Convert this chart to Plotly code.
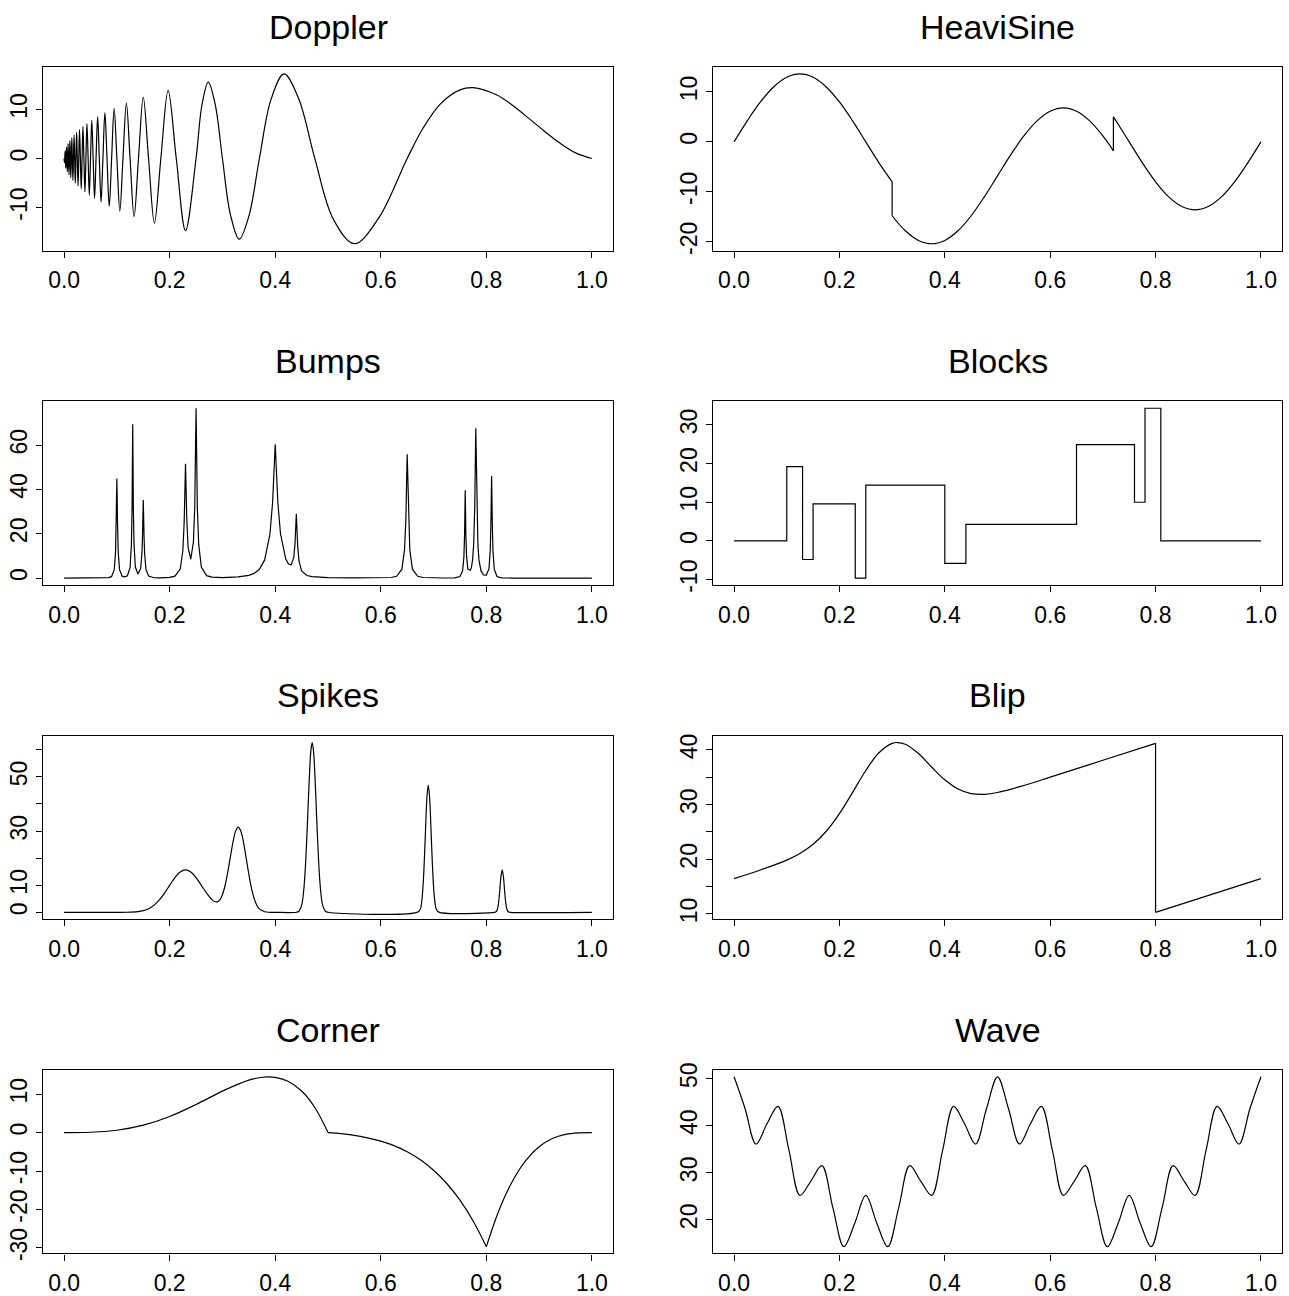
import plotly.graph_objects as go

# ---------------- data ----------------
doppler_t = [0.0, 0.0006, 0.0012, 0.0019, 0.0025, 0.0032, 0.0038, 0.0045, 0.0053, 0.0060, 0.0068, 0.0075,
             0.0083, 0.0092, 0.0100, 0.0109, 0.0118, 0.0127, 0.0136, 0.0146, 0.0156, 0.0167, 0.0177, 0.0189,
             0.0200, 0.0212, 0.0224, 0.0237, 0.0250, 0.0264, 0.0278, 0.0292, 0.0308, 0.0324, 0.0340, 0.0357,
             0.0375, 0.0394, 0.0413, 0.0433, 0.0455, 0.0477, 0.0500, 0.0524, 0.0550, 0.0577, 0.0605, 0.0635,
             0.0667, 0.0700, 0.0735, 0.0773, 0.0813, 0.0855, 0.0900, 0.0948, 0.1000, 0.1056, 0.1115, 0.1180,
             0.1250, 0.1326, 0.1409, 0.1500, 0.1600, 0.1711, 0.1833, 0.1971, 0.2125, 0.2300, 0.2500, 0.2611,
             0.2731, 0.2860, 0.3000, 0.3152, 0.3318, 0.3500, 0.3700, 0.3921, 0.4167, 0.4441, 0.4750, 0.5100,
             0.5500, 0.5962, 0.6500, 0.6800, 0.7136, 0.7500, 0.7750, 0.8200, 0.8500, 0.8833, 0.9100, 0.9400,
             0.9700, 1.0]
doppler_y = [0, -0.86, 0, 1.51, 0, -1.97, 0, 2.35, 0, -2.70, 0, 3.03,
             0, -3.33, 0, 3.63, 0, -3.92, 0, 4.20, 0, -4.48, 0, 4.76,
             0, -5.04, 0, 5.32, 0, -5.61, 0, 5.90, 0, -6.19, 0, 6.50,
             0, -6.81, 0, 7.13, 0, -7.46, 0, 7.80, 0, -8.16, 0, 8.54,
             0, -8.93, 0, 9.35, 0, -9.79, 0, 10.25, 0, -10.75, 0, 11.29,
             0, -11.87, 0, 12.50, 0, -13.18, 0, 13.92, 0, -14.73, 0, 10.87,
             15.59, 11.18, 0, -11.50, -16.48, -11.80, 0, 12.08, 17.26, 12.30, 0, -12.37,
             -17.41, -12.14, 0, 6.17, 11.19, 14.00, 14.47, 12.96, 10.82, 7.94, 5.57, 3.09,
             1.10, 0]

heavi_t1 = [0.0, 0.025, 0.05, 0.075, 0.1, 0.125, 0.15, 0.175, 0.2, 0.225, 0.25, 0.275, 0.3]
heavi_y1 = [0.0, 4.20, 7.99, 11.00, 12.93, 13.60, 12.93, 11.00, 7.99, 4.20, 0.0, -4.20, -7.99]
heavi_t2 = [0.3, 0.325, 0.35, 0.375, 0.4, 0.425, 0.45, 0.475, 0.5, 0.525, 0.55, 0.575, 0.6,
            0.625, 0.65, 0.675, 0.7, 0.72]
heavi_y2 = [-14.79, -17.80, -19.73, -20.40, -19.73, -17.80, -14.79, -11.00, -6.80, -2.60, 1.19, 4.20, 6.13,
            6.80, 6.13, 4.20, 1.19, -1.79]
heavi_t3 = [0.72, 0.725, 0.75, 0.775, 0.8, 0.825, 0.85, 0.875, 0.9, 0.925, 0.95, 0.975, 1.0]
heavi_y3 = [5.01, 4.20, 0.0, -4.20, -7.99, -11.00, -12.93, -13.60, -12.93, -11.00, -7.99, -4.20, 0.0]

bumps_t = [0.0, 0.05, 0.08, 0.085, 0.09, 0.095, 0.0975, 0.09875, 0.1, 0.10125, 0.1025, 0.105, 0.11, 0.115,
           0.12, 0.125, 0.1275, 0.12875, 0.13, 0.13125, 0.1325, 0.135, 0.14, 0.145, 0.1475, 0.1485, 0.15,
           0.1515, 0.1525, 0.155, 0.16, 0.17, 0.18, 0.2, 0.21, 0.22, 0.225, 0.2275, 0.23, 0.2325, 0.235,
           0.24, 0.245, 0.2475, 0.25, 0.2525, 0.255, 0.26, 0.27, 0.28, 0.3, 0.33, 0.35, 0.36, 0.37, 0.38,
           0.39, 0.395, 0.4, 0.405, 0.41, 0.42, 0.425, 0.43, 0.435, 0.4375, 0.44, 0.4425, 0.445, 0.45, 0.46,
           0.47, 0.5, 0.55, 0.6, 0.62, 0.63, 0.64, 0.645, 0.6475, 0.65, 0.6525, 0.655, 0.66, 0.67, 0.68,
           0.7, 0.72, 0.74, 0.745, 0.75, 0.755, 0.7575, 0.75875, 0.76, 0.76125, 0.7625, 0.765, 0.77, 0.772,
           0.774, 0.776, 0.778, 0.78, 0.782, 0.784, 0.786, 0.788, 0.79, 0.795, 0.8, 0.805, 0.8075, 0.80875,
           0.81, 0.81125, 0.8125, 0.815, 0.82, 0.825, 0.83, 0.85, 1.0]
bumps_y = [0.0, 0.0, 0.1, 0.23, 0.74, 3.8, 11.9, 24.6, 45.0, 24.6, 11.9, 3.8, 0.86, 0.52,
           1.06, 4.8, 14.9, 30.7, 69.5, 30.8, 15.0, 4.99, 1.82, 4.28, 11.4, 18.5, 35.3,
           18.4, 11.2, 4.05, 0.92, 0.15, 0.08, 0.3, 0.86, 4.04, 12.35, 25.3, 51.6, 25.9, 13.8,
           8.5, 16.4, 31.8, 76.7, 31.2, 15.2, 4.98, 1.1, 0.44, 0.24, 0.51, 1.25, 2.13, 3.94, 8.2,
           19.9, 34.0, 60.4, 34.1, 20.0, 8.6, 6.4, 5.9, 9.1, 15.4, 29.0, 14.75, 7.8, 3.2, 1.17,
           0.63, 0.2, 0.05, 0.06, 0.25, 0.8, 4.03, 12.7, 26.4, 55.9, 26.4, 12.7, 4.03, 0.8, 0.25,
           0.05, 0.03, 0.13, 0.27, 0.72, 3.17, 9.54, 19.4, 39.7, 19.6, 9.9, 4.03, 3.56, 5.13,
           8.4, 15.3, 31.4, 67.7, 31.4, 15.2, 8.2, 4.85, 3.1, 1.37, 1.29, 4.2, 12.6, 26.0,
           46.1, 25.9, 12.5, 4.03, 0.84, 0.29, 0.13, 0.01, 0.0]

blocks_t = [0.0, 0.10, 0.13, 0.15, 0.23, 0.25, 0.40, 0.44, 0.65, 0.76, 0.78, 0.81, 1.0]
blocks_y = [0.0, 19.2, -4.8, 9.6, -9.6, 14.4, -5.8, 4.3, 24.9, 10.0, 34.3, 0.0, 0.0]

spikes_t = [0.0, 0.1, 0.12, 0.14, 0.15, 0.16, 0.17, 0.18, 0.19, 0.2, 0.21, 0.22, 0.23, 0.24, 0.25,
            0.26, 0.27, 0.28, 0.285, 0.29, 0.295, 0.30, 0.305, 0.31, 0.315, 0.32, 0.325, 0.33, 0.335,
            0.34, 0.345, 0.35, 0.355, 0.36, 0.365, 0.37, 0.38, 0.39, 0.40, 0.44, 0.445, 0.45, 0.4525,
            0.455, 0.4575, 0.46, 0.4625, 0.465, 0.4675, 0.47, 0.4725, 0.475, 0.4775, 0.48, 0.4825, 0.485,
            0.4875, 0.49, 0.495, 0.5, 0.67, 0.675, 0.6775, 0.68, 0.6825, 0.685, 0.6875, 0.69, 0.6925,
            0.695, 0.6975, 0.7, 0.7025, 0.705, 0.71, 0.815, 0.8175, 0.82, 0.8225, 0.825, 0.8275, 0.83,
            0.8325, 0.835, 0.8375, 0.84, 0.8425, 0.845, 1.0]
spikes_y = [0.0, 0.0, 0.04, 0.27, 0.64, 1.35, 2.59, 4.49, 7.04, 9.99, 12.83, 14.91, 15.67, 14.91, 12.83,
            9.99, 7.06, 4.70, 4.0, 3.87, 4.59, 6.53, 9.92, 14.72, 20.4, 25.93, 29.98, 31.45, 29.87,
            25.70, 20.0, 14.09, 8.98, 5.18, 2.70, 1.28, 0.21, 0.02, 0.0, 0.05, 0.42, 2.56, 5.41,
            10.36, 17.96, 28.16, 39.96, 51.3, 59.6, 62.68, 59.6, 51.3, 39.96, 28.16, 17.96, 10.36,
            5.41, 2.56, 0.42, 0.05, 0.08, 1.28, 3.86, 9.49, 19.1, 31.5, 42.5, 47.0, 42.5,
            31.5, 19.1, 9.49, 3.86, 1.28, 0.08, 0.01, 0.1, 0.64, 2.59, 7.04, 12.83, 15.67,
            12.83, 7.04, 2.59, 0.64, 0.1, 0.01, 0.0]

blip_t1 = [0.0, 0.05, 0.1, 0.125, 0.15, 0.175, 0.2, 0.225, 0.25, 0.275, 0.3, 0.31, 0.325, 0.35, 0.375,
           0.4, 0.425, 0.45, 0.475, 0.5, 0.55, 0.6, 0.7, 0.8]
blip_y1 = [16.48, 18.05, 19.85, 21.07, 22.74, 25.13, 28.34, 32.24, 36.24, 39.49, 41.2, 41.35, 41.04, 39.33,
           36.87, 34.53, 32.85, 32.01, 31.88, 32.21, 33.5, 35.02, 38.11, 41.2]
blip_t2 = [0.8, 1.0]
blip_y2 = [10.3, 16.48]

corner_t1 = [0.0, 0.05, 0.1, 0.15, 0.2, 0.25, 0.3, 0.35, 0.375, 0.3873, 0.4, 0.425, 0.45, 0.475, 0.5]
corner_y1 = [0.0, 0.08, 0.60, 1.92, 4.19, 7.31, 10.78, 13.64, 14.39, 14.50, 14.37, 13.29, 10.80, 6.52, 0.0]
corner_t2 = [0.5, 0.525, 0.55, 0.6, 0.625, 0.65, 0.675, 0.7, 0.725, 0.75, 0.775, 0.8]
corner_y2 = [0.0, -0.28, -0.71, -2.21, -3.40, -5.0, -7.09, -9.80, -13.24, -17.58, -22.99, -29.67]
corner_t3 = [0.8, 0.825, 0.85, 0.875, 0.9, 0.925, 0.95, 0.975, 1.0]
corner_y3 = [-29.67, -19.86, -12.51, -7.24, -3.71, -1.56, -0.46, -0.06, 0.0]

wave_t = [0.0, 0.0208, 0.0417, 0.0625, 0.0833, 0.1042, 0.125, 0.1458, 0.1667, 0.1875, 0.2083, 0.2292,
          0.25, 0.2708, 0.2917, 0.3125, 0.3333, 0.3542, 0.375, 0.3958, 0.4167, 0.4375, 0.4583, 0.4792,
          0.5, 0.5208, 0.5417, 0.5625, 0.5833, 0.6042, 0.625, 0.6458, 0.6667, 0.6875, 0.7083, 0.7292,
          0.75, 0.7708, 0.7917, 0.8125, 0.8333, 0.8542, 0.875, 0.8958, 0.9167, 0.9375, 0.9583, 0.9792, 1.0]
wave_y = [50.4, 43.67, 36.11, 40.41, 44.1, 34.76, 25.2, 28.24, 31.5, 22.59, 14.29, 19.33,
          25.2, 19.33, 14.29, 22.59, 31.5, 28.24, 25.2, 34.76, 44.1, 40.41, 36.11, 43.67,
          50.4, 43.67, 36.11, 40.41, 44.1, 34.76, 25.2, 28.24, 31.5, 22.59, 14.29, 19.33,
          25.2, 19.33, 14.29, 22.59, 31.5, 28.24, 25.2, 34.76, 44.1, 40.41, 36.11, 43.67, 50.4]

x_ticks = [0.0, 0.2, 0.4, 0.6, 0.8, 1.0]
x_tick_labels = ["0.0", "0.2", "0.4", "0.6", "0.8", "1.0"]

titles = ["Doppler", "HeaviSine", "Bumps", "Blocks", "Spikes", "Blip", "Corner", "Wave"]

panels = [
    dict(pieces=[(doppler_t, doppler_y, "spline")],
         yt=[-10, 0, 10], yl=["-10", "0", "10"]),
    dict(pieces=[(heavi_t1, heavi_y1, "spline"), (heavi_t2, heavi_y2, "spline"), (heavi_t3, heavi_y3, "spline")],
         yt=[-20, -10, 0, 10], yl=["-20", "-10", "0", "10"]),
    dict(pieces=[(bumps_t, bumps_y, "linear")],
         yt=[0, 20, 40, 60], yl=["0", "20", "40", "60"]),
    dict(pieces=[(blocks_t, blocks_y, "hv")],
         yt=[-10, 0, 10, 20, 30], yl=["-10", "0", "10", "20", "30"]),
    dict(pieces=[(spikes_t, spikes_y, "spline")],
         yt=[0, 10, 20, 30, 40, 50, 60], yl=["0", "10", "", "30", "", "50", ""]),
    dict(pieces=[(blip_t1, blip_y1, "spline"), (blip_t2, blip_y2, "linear")],
         yt=[10, 15, 20, 25, 30, 35, 40], yl=["10", "", "20", "", "30", "", "40"]),
    dict(pieces=[(corner_t1, corner_y1, "spline"), (corner_t2, corner_y2, "spline"), (corner_t3, corner_y3, "spline")],
         yt=[-30, -20, -10, 0, 10], yl=["-30", "-20", "-10", "0", "10"]),
    dict(pieces=[(wave_t, wave_y, "spline")],
         yt=[20, 30, 40, 50], yl=["20", "30", "40", "50"]),
]

# ---------------- layout geometry (pixels of a 1289x1296 page) ----------------
W, H = 1289, 1296
col_px = [(43, 613), (713, 1282)]
row_top = [61, 400, 739, 1078]
box_h = 186
title_offset = 41

FONT = "Liberation Sans, Arial, Helvetica, sans-serif"
fig = go.Figure()
layout = dict(width=W, height=H, autosize=False, margin=dict(l=0, r=0, t=0, b=0, pad=0),
              paper_bgcolor="white", plot_bgcolor="white", showlegend=False,
              font=dict(family=FONT, color="black"))
annotations = []

for i, p in enumerate(panels):
    r, c = divmod(i, 2)
    k = "" if i == 0 else str(i + 1)
    xa, ya = "x" + k, "y" + k
    line = dict(color="black", width=1.2)
    prev = None
    all_y = []
    for (tx, ty, shape) in p["pieces"]:
        if prev is not None:
            fig.add_trace(go.Scatter(x=[prev[0], tx[0]], y=[prev[1], ty[0]], mode="lines",
                                     line=line, xaxis=xa, yaxis=ya, hoverinfo="skip"))
        fig.add_trace(go.Scatter(x=tx, y=ty, mode="lines", line=dict(color="black", width=1.2, shape=shape),
                                 xaxis=xa, yaxis=ya, hoverinfo="skip"))
        prev = (tx[-1], ty[-1])
        all_y += list(ty)
    lo, hi = min(all_y), max(all_y)
    pad = 0.04 * (hi - lo)
    x0, x1 = col_px[c]
    top = row_top[r]
    bot = top + box_h
    axis_common = dict(showline=True, mirror=True, linecolor="black", linewidth=1.2,
                       ticks="outside", ticklen=6, tickwidth=1.1, tickcolor="black",
                       showgrid=False, zeroline=False,
                       tickfont=dict(family=FONT, size=23, color="black"))
    layout["xaxis" + k] = dict(axis_common, domain=[x0 / W, x1 / W], range=[-0.04, 1.04],
                               tickmode="array", tickvals=x_ticks, ticktext=x_tick_labels,
                               anchor=ya, ticklabelstandoff=3)
    layout["yaxis" + k] = dict(axis_common, domain=[1 - bot / H, 1 - top / H], range=[lo - pad, hi + pad],
                               tickmode="array", tickvals=p["yt"], ticktext=p["yl"],
                               tickangle=-90, anchor=xa, ticklabelstandoff=0)
    annotations.append(dict(text=titles[i], x=(x0 + x1) / 2 / W, y=1 - (top - title_offset) / H,
                            xref="paper", yref="paper", showarrow=False, xanchor="center", yanchor="middle",
                            font=dict(family=FONT, size=34, color="black")))

layout["annotations"] = annotations
fig.update_layout(**layout)

page_fix = (
    "var de=document.documentElement, b=document.body;"
    "de.style.margin='0';de.style.padding='0';de.style.overflow='hidden';"
    "b.style.margin='0';b.style.padding='0';b.style.overflow='hidden';"
)
fig.write_html("out.html", config={"displayModeBar": False, "responsive": False},
               default_width="1289px", default_height="1296px", post_script=page_fix)
